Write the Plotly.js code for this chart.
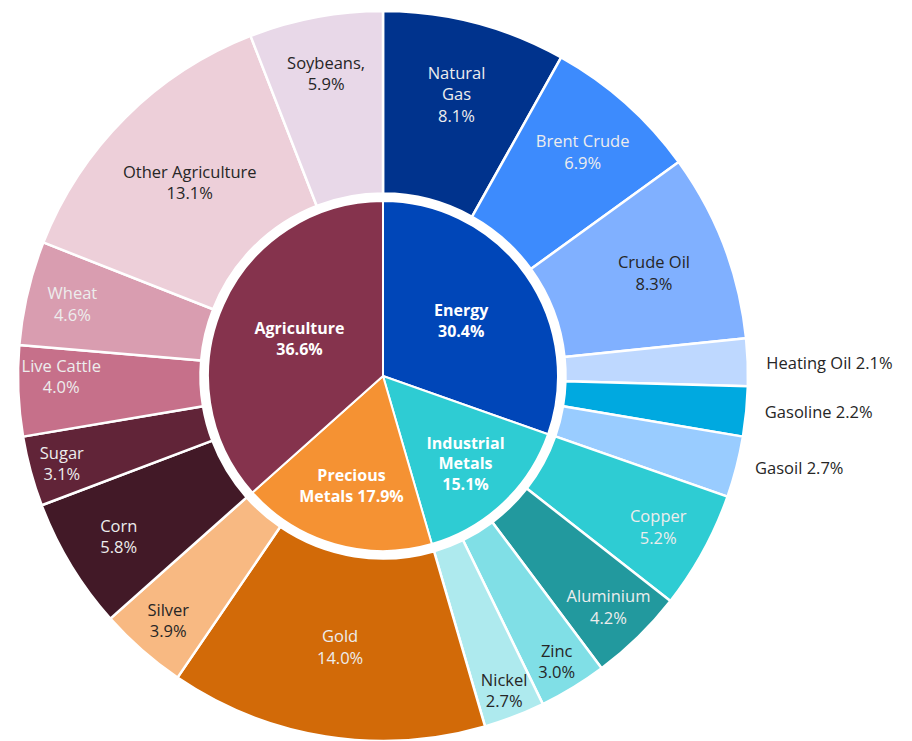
<!DOCTYPE html>
<html>
<head>
<meta charset="utf-8">
<script src="https://cdn.plot.ly/plotly-3.0.1.min.js"></script>
<style>html,body{margin:0;padding:0;background:#fff;}#chart{width:912px;height:741px;}</style>
</head>
<body>
<div id="chart"></div>
<script>
// Inner ring: sectors
const sectorLabels = ['Energy', 'Industrial Metals', 'Precious Metals', 'Agriculture'];
const sectorDisplay = ['Energy<br>', 'Industrial<br>Metals<br>', 'Precious<br>Metals ', 'Agriculture<br>'];
const sectorValues = [30.4, 15.1, 17.9, 36.6];
const sectorColors = ['#0046B8', '#2ECCD3', '#F59233', '#85334D'];

// Outer ring: commodities
const commodityLabels = ['Natural Gas', 'Brent Crude', 'Crude Oil', 'Heating Oil', 'Gasoline', 'Gasoil',
  'Copper', 'Aluminium', 'Zinc', 'Nickel',
  'Gold', 'Silver',
  'Corn', 'Sugar', 'Live Cattle', 'Wheat', 'Other Agriculture', 'Soybeans'];
const commodityDisplay = ['Natural<br>Gas<br>', 'Brent Crude<br>', 'Crude Oil<br>',
  '\u00A0\u00A0\u00A0Heating Oil ', '\u00A0\u00A0\u00A0Gasoline ', '\u00A0\u00A0\u00A0Gasoil ',
  'Copper<br>', 'Aluminium<br>', 'Zinc<br>', 'Nickel<br>',
  'Gold<br>', 'Silver<br>',
  'Corn<br>', 'Sugar<br>', 'Live Cattle<br>', 'Wheat<br>', 'Other Agriculture<br>', 'Soybeans,<br>'];
const commodityValues = [8.1, 6.9, 8.3, 2.1, 2.2, 2.7,
  5.2, 4.2, 3.0, 2.7,
  14.0, 3.9,
  5.8, 3.1, 4.0, 4.6, 13.1, 5.9];
const commodityColors = ['#00338D', '#3D8BFD', '#80B0FF', '#BED8FF', '#00A9E0', '#99CCFF',
  '#2ECCD3', '#22999E', '#80DFE6', '#AEEAEE',
  '#D26A08', '#F8B982',
  '#421927', '#612438', '#C6708A', '#D99DB0', '#EDCFD9', '#E8D8E8'];
const commodityTextColors = ['#EDEDED', '#EDEDED', '#262626', '#262626', '#262626', '#262626',
  '#EDEDED', '#EDEDED', '#262626', '#262626',
  '#EDEDED', '#262626',
  '#EDEDED', '#EDEDED', '#EDEDED', '#EDEDED', '#262626', '#262626'];
const commodityTextPos = ['inside', 'inside', 'inside', 'outside', 'outside', 'outside',
  'inside', 'inside', 'inside', 'inside',
  'inside', 'inside',
  'inside', 'inside', 'inside', 'inside', 'inside', 'inside'];

const fmt = (d, v) => d + v.toFixed(1) + '%';
const FONT = 'Open Sans, Lato, sans-serif';

const W = 912, H = 741;
const cx = 383, cy = 376;
const R = 365, r = 175;

const outer = {
  type: 'pie',
  labels: commodityLabels,
  values: commodityValues,
  text: commodityDisplay.map((d, i) => fmt(d, commodityValues[i])),
  textinfo: 'text',
  textposition: commodityTextPos,
  insidetextorientation: 'horizontal',
  textfont: {family: FONT, size: 16.5, color: commodityTextColors},
  outsidetextfont: {family: FONT, size: 16.5, color: '#262626'},
  marker: {colors: commodityColors, line: {color: '#FFFFFF', width: 2.5}},
  hole: 0.5,
  sort: false,
  direction: 'clockwise',
  rotation: 0,
  hoverinfo: 'none',
  showlegend: false,
  domain: {x: [(cx - R) / W, (cx + R) / W], y: [(H - cy - R) / H, (H - cy + R) / H]}
};

const inner = {
  type: 'pie',
  labels: sectorLabels,
  values: sectorValues,
  text: sectorDisplay.map((d, i) => '<b>' + fmt(d, sectorValues[i]) + '</b>'),
  textinfo: 'text',
  textposition: 'inside',
  insidetextorientation: 'horizontal',
  textfont: {family: FONT, size: 16, color: '#FFFFFF'},
  marker: {colors: sectorColors, line: {color: '#FFFFFF', width: 2}},
  sort: false,
  direction: 'clockwise',
  rotation: 0,
  hoverinfo: 'none',
  showlegend: false,
  domain: {x: [(cx - r) / W, (cx + r) / W], y: [(H - cy - r) / H, (H - cy + r) / H]}
};

const layout = {
  width: W, height: H,
  margin: {l: 0, r: 0, t: 0, b: 0},
  paper_bgcolor: '#FFFFFF',
  plot_bgcolor: '#FFFFFF',
  uniformtext: {minsize: 16, mode: 'show'},
  font: {family: FONT}
};

Plotly.newPlot('chart', [outer, inner], layout, {displayModeBar: false, staticPlot: true});
</script>
</body>
</html>
